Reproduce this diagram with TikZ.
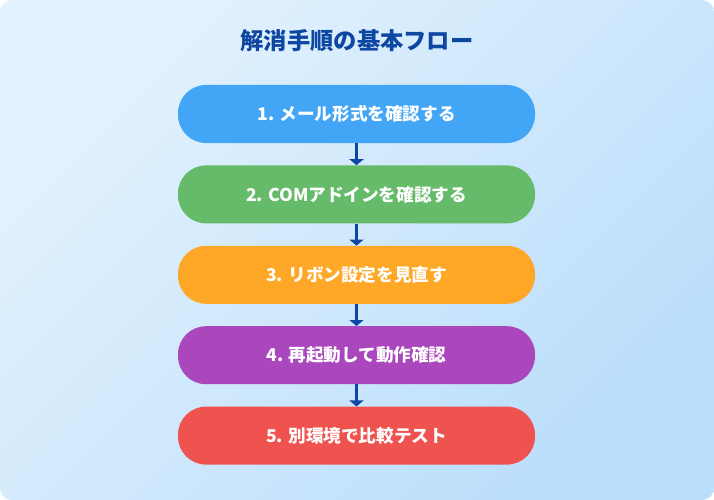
\documentclass[tikz,border=0pt]{standalone}
\usepackage{fontspec}
\setmainfont{Noto Sans CJK JP}
\usetikzlibrary{positioning,arrows.meta}

\begin{document}
\begin{tikzpicture}[x=1pt,y=-1pt,
    stepbox/.style={shape=rectangle,rounded corners=28pt,minimum width=357pt,minimum height=58pt,text=white,font=\fontsize{17.6}{20}\selectfont\bfseries,inner sep=0pt},
    flowarrow/.style={draw=flowline,line width=2.6pt,-{Triangle[width=14pt,length=6pt]}}]
    \definecolor{bgtop}{RGB}{227,242,253}
    \definecolor{bgbottom}{RGB}{187,222,251}
    \definecolor{flowline}{RGB}{13,71,161}
    \definecolor{flow_blue}{RGB}{66,165,245}
    \definecolor{flow_green}{RGB}{102,187,106}
    \definecolor{flow_orange}{RGB}{255,167,38}
    \definecolor{flow_purple}{RGB}{171,71,188}
    \definecolor{flow_red}{RGB}{239,83,80}
    \useasboundingbox (0,0) rectangle (714,500);
    \fill[white] (0,0) rectangle (714,500);
    \shade[rounded corners=12pt,top color=bgtop,bottom color=bgbottom,shading angle=45] (0,0) rectangle (714,500);
    \node[text=flowline,font=\fontsize{23.3}{26}\selectfont\bfseries] (title) at (357,41) {解消手順の基本フロー};
    \node[stepbox,fill=flow_blue] (s1) at (356.5,114) {1. メール形式を確認する};
    \node[stepbox,fill=flow_green,below=22pt of s1] (s2) {2. COMアドインを確認する};
    \node[stepbox,fill=flow_orange,below=22pt of s2] (s3) {3. リボン設定を見直す};
    \node[stepbox,fill=flow_purple,below=22pt of s3] (s4) {4. 再起動して動作確認};
    \node[stepbox,fill=flow_red,below=22pt of s4] (s5) {5. 別環境で比較テスト};
    \draw[flowarrow] (s1) -- (s2);
    \draw[flowarrow] (s2) -- (s3);
    \draw[flowarrow] (s3) -- (s4);
    \draw[flowarrow] (s4) -- (s5);
\end{tikzpicture}
\end{document}
